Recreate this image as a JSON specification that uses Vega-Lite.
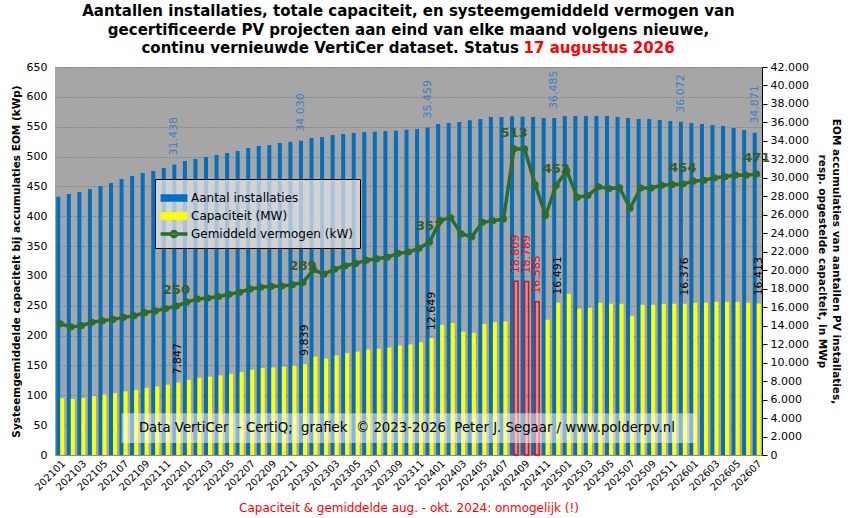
{
  "$schema": "https://vega.github.io/schema/vega-lite/v6.json",
  "autosize": {"type": "none"},
  "width": 707,
  "height": 388,
  "padding": {"left": 55, "top": 67, "right": 89, "bottom": 63},
  "background": "white",
  "title": {
    "text": ["Aantallen installaties, totale capaciteit, en systeemgemiddeld vermogen van", "gecertificeerde PV projecten aan eind van elke maand volgens nieuwe,", "continu vernieuwde VertiCer dataset. Status\u00a0\u00a0\u00a0\u00a0\u00a0\u00a0\u00a0\u00a0\u00a0\u00a0\u00a0\u00a0\u00a0\u00a0\u00a0\u00a0\u00a0\u00a0\u00a0\u00a0\u00a0\u00a0\u00a0\u00a0\u00a0\u00a0\u00a0\u00a0\u00a0\u00a0\u200b"],
    "subtitle": "\u200b\u00a0\u00a0\u00a0\u00a0\u00a0\u00a0\u00a0\u00a0\u00a0\u00a0\u00a0\u00a0\u00a0\u00a0\u00a0\u00a0\u00a0\u00a0\u00a0\u00a0\u00a0\u00a0\u00a0\u00a0\u00a0\u00a0\u00a0\u00a0\u00a0\u00a0\u00a0\u00a0\u00a0\u00a0\u00a0\u00a0\u00a0\u00a0\u00a0\u00a0\u00a0\u00a0\u00a0\u00a0\u00a0\u00a0\u00a0\u00a0\u00a0\u00a0\u00a0\u00a0\u00a0\u00a0\u00a0\u00a0\u00a0\u00a0\u00a0\u00a0\u00a0\u00a0\u00a0\u00a0\u00a0\u00a0\u00a0\u00a0\u00a0\u00a0\u00a0\u00a0\u00a017 augustus 2026",
    "font": "DejaVu Sans",
    "fontSize": 15,
    "fontWeight": "bold",
    "color": "black",
    "lineHeight": 18.5,
    "subtitleFont": "DejaVu Sans",
    "subtitleFontSize": 15,
    "subtitleFontWeight": "bold",
    "subtitleColor": "#ff0000",
    "subtitlePadding": -15,
    "anchor": "middle",
    "offset": 5
  },
  "data": {
    "values": [
      {"maand": "202101", "aantal": 27965, "capaciteit": 6150, "gemiddeld": 219.9, "onmogelijk": false},
      {"maand": "202102", "aantal": 28253, "capaciteit": 6062, "gemiddeld": 214.6, "onmogelijk": false},
      {"maand": "202103", "aantal": 28469, "capaciteit": 6170, "gemiddeld": 216.7, "onmogelijk": false},
      {"maand": "202104", "aantal": 28794, "capaciteit": 6400, "gemiddeld": 222.3, "onmogelijk": false},
      {"maand": "202105", "aantal": 29119, "capaciteit": 6550, "gemiddeld": 224.9, "onmogelijk": false},
      {"maand": "202106", "aantal": 29444, "capaciteit": 6690, "gemiddeld": 227.2, "onmogelijk": false},
      {"maand": "202107", "aantal": 29877, "capaciteit": 6890, "gemiddeld": 230.6, "onmogelijk": false},
      {"maand": "202108", "aantal": 30201, "capaciteit": 7050, "gemiddeld": 233.4, "onmogelijk": false},
      {"maand": "202109", "aantal": 30526, "capaciteit": 7280, "gemiddeld": 238.5, "onmogelijk": false},
      {"maand": "202110", "aantal": 30743, "capaciteit": 7420, "gemiddeld": 241.4, "onmogelijk": false},
      {"maand": "202111", "aantal": 31067, "capaciteit": 7620, "gemiddeld": 245.3, "onmogelijk": false},
      {"maand": "202112", "aantal": 31438, "capaciteit": 7847, "gemiddeld": 249.6, "onmogelijk": false},
      {"maand": "202201", "aantal": 31825, "capaciteit": 8155, "gemiddeld": 256.2, "onmogelijk": false},
      {"maand": "202202", "aantal": 32041, "capaciteit": 8372, "gemiddeld": 261.3, "onmogelijk": false},
      {"maand": "202203", "aantal": 32258, "capaciteit": 8480, "gemiddeld": 262.9, "onmogelijk": false},
      {"maand": "202204", "aantal": 32474, "capaciteit": 8620, "gemiddeld": 265.4, "onmogelijk": false},
      {"maand": "202205", "aantal": 32691, "capaciteit": 8805, "gemiddeld": 269.3, "onmogelijk": false},
      {"maand": "202206", "aantal": 32907, "capaciteit": 8970, "gemiddeld": 272.6, "onmogelijk": false},
      {"maand": "202207", "aantal": 33232, "capaciteit": 9238, "gemiddeld": 278.0, "onmogelijk": false},
      {"maand": "202208", "aantal": 33449, "capaciteit": 9400, "gemiddeld": 281.0, "onmogelijk": false},
      {"maand": "202209", "aantal": 33557, "capaciteit": 9480, "gemiddeld": 282.5, "onmogelijk": false},
      {"maand": "202210", "aantal": 33774, "capaciteit": 9563, "gemiddeld": 283.1, "onmogelijk": false},
      {"maand": "202211", "aantal": 33900, "capaciteit": 9672, "gemiddeld": 285.3, "onmogelijk": false},
      {"maand": "202212", "aantal": 34030, "capaciteit": 9839, "gemiddeld": 289.1, "onmogelijk": false},
      {"maand": "202301", "aantal": 34315, "capaciteit": 10647, "gemiddeld": 310.3, "onmogelijk": false},
      {"maand": "202302", "aantal": 34423, "capaciteit": 10430, "gemiddeld": 303.0, "onmogelijk": false},
      {"maand": "202303", "aantal": 34640, "capaciteit": 10780, "gemiddeld": 311.2, "onmogelijk": false},
      {"maand": "202304", "aantal": 34748, "capaciteit": 11020, "gemiddeld": 317.1, "onmogelijk": false},
      {"maand": "202305", "aantal": 34856, "capaciteit": 11188, "gemiddeld": 321.0, "onmogelijk": false},
      {"maand": "202306", "aantal": 34964, "capaciteit": 11405, "gemiddeld": 326.2, "onmogelijk": false},
      {"maand": "202307", "aantal": 35000, "capaciteit": 11513, "gemiddeld": 328.9, "onmogelijk": false},
      {"maand": "202308", "aantal": 35072, "capaciteit": 11621, "gemiddeld": 331.3, "onmogelijk": false},
      {"maand": "202309", "aantal": 35108, "capaciteit": 11860, "gemiddeld": 337.8, "onmogelijk": false},
      {"maand": "202310", "aantal": 35216, "capaciteit": 11980, "gemiddeld": 340.2, "onmogelijk": false},
      {"maand": "202311", "aantal": 35289, "capaciteit": 12220, "gemiddeld": 346.3, "onmogelijk": false},
      {"maand": "202312", "aantal": 35459, "capaciteit": 12649, "gemiddeld": 356.7, "onmogelijk": false},
      {"maand": "202401", "aantal": 35830, "capaciteit": 14072, "gemiddeld": 392.7, "onmogelijk": false},
      {"maand": "202402", "aantal": 35939, "capaciteit": 14289, "gemiddeld": 397.6, "onmogelijk": false},
      {"maand": "202403", "aantal": 36047, "capaciteit": 13351, "gemiddeld": 370.4, "onmogelijk": false},
      {"maand": "202404", "aantal": 36227, "capaciteit": 13243, "gemiddeld": 365.6, "onmogelijk": false},
      {"maand": "202405", "aantal": 36371, "capaciteit": 14180, "gemiddeld": 389.9, "onmogelijk": false},
      {"maand": "202406", "aantal": 36588, "capaciteit": 14360, "gemiddeld": 392.5, "onmogelijk": false},
      {"maand": "202407", "aantal": 36588, "capaciteit": 14460, "gemiddeld": 395.2, "onmogelijk": false},
      {"maand": "202408", "aantal": 36660, "capaciteit": 18809, "gemiddeld": 513.1, "onmogelijk": true},
      {"maand": "202409", "aantal": 36640, "capaciteit": 18789, "gemiddeld": 512.8, "onmogelijk": true},
      {"maand": "202410", "aantal": 36600, "capaciteit": 16585, "gemiddeld": 453.1, "onmogelijk": true},
      {"maand": "202411", "aantal": 36480, "capaciteit": 14649, "gemiddeld": 401.6, "onmogelijk": false},
      {"maand": "202412", "aantal": 36485, "capaciteit": 16491, "gemiddeld": 452.0, "onmogelijk": false},
      {"maand": "202501", "aantal": 36696, "capaciteit": 17466, "gemiddeld": 476.0, "onmogelijk": false},
      {"maand": "202502", "aantal": 36696, "capaciteit": 15840, "gemiddeld": 431.7, "onmogelijk": false},
      {"maand": "202503", "aantal": 36696, "capaciteit": 15948, "gemiddeld": 434.6, "onmogelijk": false},
      {"maand": "202504", "aantal": 36696, "capaciteit": 16490, "gemiddeld": 449.4, "onmogelijk": false},
      {"maand": "202505", "aantal": 36696, "capaciteit": 16382, "gemiddeld": 446.4, "onmogelijk": false},
      {"maand": "202506", "aantal": 36588, "capaciteit": 16382, "gemiddeld": 447.7, "onmogelijk": false},
      {"maand": "202507", "aantal": 36480, "capaciteit": 15082, "gemiddeld": 413.4, "onmogelijk": false},
      {"maand": "202508", "aantal": 36371, "capaciteit": 16274, "gemiddeld": 447.4, "onmogelijk": false},
      {"maand": "202509", "aantal": 36371, "capaciteit": 16274, "gemiddeld": 447.4, "onmogelijk": false},
      {"maand": "202510", "aantal": 36263, "capaciteit": 16382, "gemiddeld": 451.8, "onmogelijk": false},
      {"maand": "202511", "aantal": 36155, "capaciteit": 16382, "gemiddeld": 453.1, "onmogelijk": false},
      {"maand": "202512", "aantal": 36072, "capaciteit": 16376, "gemiddeld": 454.0, "onmogelijk": false},
      {"maand": "202601", "aantal": 35939, "capaciteit": 16490, "gemiddeld": 458.8, "onmogelijk": false},
      {"maand": "202602", "aantal": 35830, "capaciteit": 16490, "gemiddeld": 460.2, "onmogelijk": false},
      {"maand": "202603", "aantal": 35722, "capaciteit": 16598, "gemiddeld": 464.6, "onmogelijk": false},
      {"maand": "202604", "aantal": 35614, "capaciteit": 16598, "gemiddeld": 466.1, "onmogelijk": false},
      {"maand": "202605", "aantal": 35397, "capaciteit": 16598, "gemiddeld": 468.9, "onmogelijk": false},
      {"maand": "202606", "aantal": 35181, "capaciteit": 16490, "gemiddeld": 468.7, "onmogelijk": false},
      {"maand": "202607", "aantal": 34871, "capaciteit": 16413, "gemiddeld": 470.7, "onmogelijk": false}
    ]
  },
  "encoding": {
    "x": {
      "field": "maand",
      "type": "ordinal",
      "scale": {"paddingInner": 0.24, "paddingOuter": 0.12},
      "axis": {
        "values": ["202101","202103","202105","202107","202109","202111","202201","202203","202205","202207","202209","202211","202301","202303","202305","202307","202309","202311","202401","202403","202405","202407","202409","202411","202501","202503","202505","202507","202509","202511","202601","202603","202605","202607"],
        "labelAngle": -45,
        "labelFontSize": 10,
        "labelColor": "black",
        "labelOverlap": false,
        "labelPadding": 3,
        "ticks": false,
        "domain": true,
        "domainColor": "#8c8c8c",
        "title": "Capaciteit & gemiddelde aug. - okt. 2024: onmogelijk (!)",
        "titleColor": "#ff0000",
        "titleFontWeight": "normal",
        "titleFontSize": 12,
        "titlePadding": 10
      }
    }
  },
  "layer": [
    {
      "transform": [{"fold": ["aantal", "capaciteit"], "as": ["reeks", "waarde"]}],
      "encoding": {
        "xOffset": {"field": "reeks", "type": "nominal", "scale": {"domain": ["aantal", "capaciteit"], "paddingInner": 0, "paddingOuter": 0}},
        "y": {
          "field": "waarde",
          "type": "quantitative",
          "scale": {"domain": [0, 42000], "nice": false, "zero": true},
          "axis": {
            "orient": "right",
            "values": [0,2000,4000,6000,8000,10000,12000,14000,16000,18000,20000,22000,24000,26000,28000,30000,32000,34000,36000,38000,40000,42000],
            "format": ",d",
            "grid": false,
            "domain": true,
            "domainColor": "black",
            "ticks": true,
            "tickColor": "black",
            "tickSize": 5,
            "labelFontSize": 11,
            "labelColor": "black",
            "labelPadding": 3,
            "title": ["EOM accumulaties van aantallen PV installaties,", "resp. opgestelde capaciteit, in MWp"],
            "titleFontSize": 10.5,
            "titleFontWeight": "bold",
            "titleColor": "black",
            "titleLineHeight": 14.5,
            "titlePadding": 8
          }
        }
      },
      "layer": [
        {
          "transform": [{"filter": "!(datum.reeks == 'capaciteit' && datum.onmogelijk)"}],
          "mark": {"type": "bar"},
          "encoding": {
            "color": {
              "field": "reeks",
              "type": "nominal",
              "scale": {"domain": ["aantal", "capaciteit", "gemiddeld"], "range": ["#0070c0", "#ffff00", "#2e6b2e"]},
              "legend": {
                "orient": "none",
                "legendX": 100,
                "legendY": 112,
                "title": null,
                "fillColor": "rgba(228,228,228,0.72)",
                "strokeColor": "black",
                "padding": 7,
                "labelFont": "DejaVu Sans",
                "labelFontSize": 12,
                "labelColor": "black",
                "labelOffset": 5,
                "labelLimit": 300,
                "rowPadding": 0,
                "symbolSize": 484,
                "symbolType": "M-1.15,-0.27H1.15V0.27H-1.15Z",
                "labelExpr": "datum.value == 'aantal' ? 'Aantal installaties' : datum.value == 'capaciteit' ? 'Capaciteit (MW)' : 'Gemiddeld vermogen (kW)'",
                "encode": {
                  "symbols": {
                    "update": {
                      "shape": {"signal": "datum.value == 'gemiddeld' ? 'M-1.15,-0.09H1.15V0.09H-1.15Z M-0.32,0A0.32,0.32,0,1,0,0.32,0A0.32,0.32,0,1,0,-0.32,0Z' : 'M-1.15,-0.27H1.15V0.27H-1.15Z'"},
                      "fill": {"scale": "color", "field": "value"},
                      "stroke": {"value": "transparent"},
                      "opacity": {"value": 1}
                    }
                  }
                }
              }
            }
          }
        },
        {
          "transform": [{"filter": "datum.reeks == 'capaciteit' && datum.onmogelijk"}],
          "mark": {"type": "bar", "fill": "transparent", "stroke": "#ff0000", "strokeWidth": 1.5}
        },
        {
          "transform": [{"filter": "datum.reeks == 'aantal' && indexof(['202112','202212','202312','202412','202512','202607'], datum.maand) >= 0"}],
          "mark": {"type": "text", "angle": -90, "align": "left", "baseline": "middle", "dx": 9, "fontSize": 11, "color": "#3e7fc6"},
          "encoding": {"text": {"field": "waarde", "type": "quantitative", "format": ",d"}}
        },
        {
          "transform": [{"filter": "datum.reeks == 'capaciteit' && !datum.onmogelijk && indexof(['202112','202212','202312','202412','202512','202607'], datum.maand) >= 0"}],
          "mark": {"type": "text", "angle": -90, "align": "left", "baseline": "middle", "dx": 8, "fontSize": 11, "color": "black"},
          "encoding": {"text": {"field": "waarde", "type": "quantitative", "format": ",d"}}
        },
        {
          "transform": [{"filter": "datum.reeks == 'capaciteit' && datum.onmogelijk"}],
          "mark": {"type": "text", "angle": -90, "align": "left", "baseline": "middle", "dx": 8, "fontSize": 11, "color": "#ff0000"},
          "encoding": {"text": {"field": "waarde", "type": "quantitative", "format": ",d"}}
        }
      ]
    },
    {
      "encoding": {
        "y": {
          "field": "gemiddeld",
          "type": "quantitative",
          "scale": {"domain": [0, 650], "nice": false, "zero": true},
          "axis": {
            "orient": "left",
            "values": [0,50,100,150,200,250,300,350,400,450,500,550,600,650],
            "grid": true,
            "gridColor": "#6a6a6a",
            "gridDash": [1, 2],
            "gridWidth": 1,
            "ticks": false,
            "domain": false,
            "labelFontSize": 11,
            "labelColor": "black",
            "labelPadding": 8,
            "title": "Systeemgemiddelde capaciteit bij accumulaties EOM (kWp)",
            "titleFontSize": 10.5,
            "titleFontWeight": "bold",
            "titleColor": "black",
            "titlePadding": 5
          }
        }
      },
      "layer": [
        {
          "mark": {"type": "line", "strokeWidth": 3.5, "point": {"filled": true, "size": 50, "color": "#1d7d1d"}},
          "encoding": {
            "color": {"datum": "gemiddeld", "type": "nominal"}
          }
        },
        {
          "transform": [{"filter": "indexof(['202112','202212','202312','202408','202412','202512','202607'], datum.maand) >= 0"}],
          "mark": {"type": "text", "fontSize": 13, "fontWeight": "bold", "color": "#3d5c22", "align": "center", "baseline": "middle", "dy": -16},
          "encoding": {"text": {"field": "gemiddeld", "type": "quantitative", "format": ".0f"}}
        },
        {
          "transform": [{"filter": "datum.maand == '202101'"}],
          "mark": {"type": "rect", "fill": "white", "opacity": 0.5},
          "encoding": {
            "x": {"datum": "202107", "type": "ordinal", "bandPosition": 0.25},
            "x2": {"datum": "202601", "bandPosition": 0.9},
            "y": {"datum": 20, "type": "quantitative"},
            "y2": {"datum": 70}
          }
        },
        {
          "transform": [{"filter": "datum.maand == '202101'"}],
          "mark": {"type": "text", "fontSize": 13.3, "color": "black", "align": "center", "baseline": "middle"},
          "encoding": {
            "x": {"datum": "202310", "type": "ordinal", "bandPosition": 0.3},
            "y": {"datum": 45, "type": "quantitative"},
            "text": {"value": "Data VertiCer\u00a0 - CertiQ;\u00a0 grafiek\u00a0 © 2023-2026\u00a0 Peter J. Segaar / www.polderpv.nl"}
          }
        }
      ]
    }
  ],
  "resolve": {"scale": {"y": "independent"}},
  "config": {
    "font": "DejaVu Sans",
    "view": {"stroke": null, "fill": "#a6a6a6"},
    "axis": {"labelFont": "DejaVu Sans", "titleFont": "DejaVu Sans"},
    "text": {"font": "DejaVu Sans"},
    "locale": {"number": {"decimal": ",", "thousands": ".", "grouping": [3], "currency": ["€", ""]}}
  }
}
